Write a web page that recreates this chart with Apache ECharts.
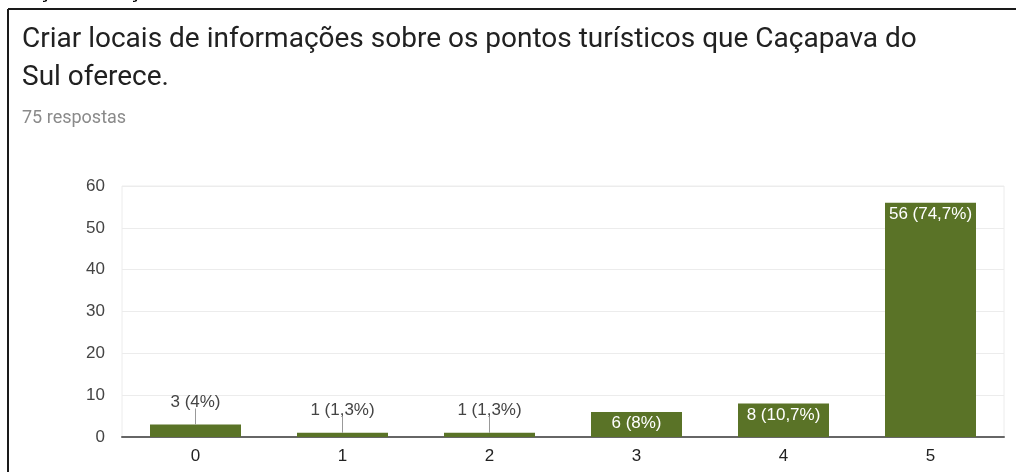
<!DOCTYPE html>
<html>
<head>
<meta charset="utf-8">
<script src="https://cdn.jsdelivr.net/npm/echarts@6/dist/echarts.min.js"></script>
<style>
  html, body { margin: 0; padding: 0; background: #fff; }
  #chart { width: 1016px; height: 472px; }
</style>
</head>
<body>
<div id="chart"></div>
<script>
// dados
var categorias = ['0', '1', '2', '3', '4', '5'];
var respostas = [3, 1, 1, 6, 8, 56];
var rotulos = ['3 (4%)', '1 (1,3%)', '1 (1,3%)', '6 (8%)', '8 (10,7%)', '56 (74,7%)'];
var ticksY = [0, 10, 20, 30, 40, 50, 60];

var verde = '#5a7327';
var guia = 15; // comprimento da linha guia

function $$(id) {
    return document.getElementById(id);
}

// barras pequenas: rotulo por cima, com linha guia
var dadosBarras = [];
for (var i = 0; i < respostas.length; i++) {
    var fora = respostas[i] < 5;
    dadosBarras.push({
        value: respostas[i],
        label: fora ? {
            position: 'top', distance: guia - 1, color: '#444'
        } : {
            position: 'insideTop', distance: 3, color: '#fff'
        }
    });
}

var myChart = echarts.init($$('chart'));
var option = {
    backgroundColor: '#fff',
    animation: false,
    title: {
        text: 'Criar locais de informações sobre os pontos turísticos que Caçapava do\nSul oferece.',
        left: 17,
        top: 16,
        textStyle: {
            fontFamily: 'Roboto',
            fontSize: 28,
            fontWeight: 'normal',
            color: '#212121',
            lineHeight: 38
        },
        subtext: '75 respostas',
        itemGap: 12,
        subtextStyle: {
            fontFamily: 'Roboto',
            fontSize: 18,
            color: '#8a8a8a'
        }
    },
    graphic: [
        // moldura do recorte
        { type: 'line', shape: { x1: 8, y1: 9, x2: 1016, y2: 9 }, style: { stroke: '#1a1a1a', lineWidth: 2 } },
        { type: 'line', shape: { x1: 8, y1: 9, x2: 8, y2: 472 }, style: { stroke: '#1a1a1a', lineWidth: 2 } },
        // restos do texto de cima, cortado
        { type: 'text', left: 37, top: -18, style: { text: 'Ç', font: 'bold 21px Arial', fill: '#000' } },
        { type: 'text', left: 127, top: -18, style: { text: 'Ç', font: 'bold 21px Arial', fill: '#000' } }
    ],
    grid: {
        left: 122,
        right: 12,
        top: 186,
        bottom: 35,
        show: true,
        borderColor: '#ececec',
        borderWidth: 1
    },
    xAxis: {
        type: 'category',
        data: categorias,
        axisTick: { show: false },
        axisLine: { lineStyle: { color: '#666', width: 2 } },
        axisLabel: {
            color: '#222',
            fontFamily: 'Arial',
            fontSize: 17,
            margin: 11
        }
    },
    yAxis: {
        type: 'value',
        min: ticksY[0],
        max: ticksY[ticksY.length - 1],
        interval: 10,
        axisLine: { show: false },
        axisTick: { show: false },
        splitLine: { lineStyle: { color: '#ececec', width: 1 } },
        axisLabel: {
            color: '#444',
            fontFamily: 'Arial',
            fontSize: 17,
            margin: 17
        }
    },
    series: [
        {
            type: 'bar',
            data: dadosBarras,
            barWidth: 91,
            itemStyle: { color: verde },
            label: {
                show: true,
                fontFamily: 'Arial',
                fontSize: 17,
                formatter: function (p) {
                    return rotulos[p.dataIndex];
                }
            },
            z: 2
        },
        {
            // linhas guia dos rotulos de fora
            type: 'custom',
            data: respostas.map(function (v, i) { return [i, v]; }),
            renderItem: function (params, api) {
                if (api.value(1) >= 5) return;
                var p = api.coord([api.value(0), api.value(1)]);
                return {
                    type: 'line',
                    shape: { x1: p[0], y1: p[1], x2: p[0], y2: p[1] - guia - 1 },
                    style: { stroke: '#999', lineWidth: 1 }
                };
            },
            silent: true,
            z: 3
        }
    ]
};
myChart.setOption(option);
</script>
</body>
</html>
